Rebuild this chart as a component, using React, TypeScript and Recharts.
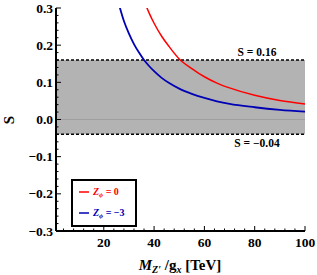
import React from 'react';
import { ComposedChart, Line, XAxis, YAxis, ReferenceArea, ReferenceLine } from 'recharts';

// data
const xValues = [24, 26, 28, 30, 32, 34, 36, 38, 40, 43, 46, 50, 55, 60, 65, 70, 80, 90, 100];
const redValues: (number | null)[] = [null, null, null, null, null, 0.36, 0.32, 0.287, 0.259, 0.224, 0.196, 0.163, 0.137, 0.115, 0.098, 0.085, 0.065, 0.051, 0.042];
const blueValues = [0.36, 0.31, 0.265, 0.231, 0.203, 0.18, 0.16, 0.144, 0.13, 0.112, 0.098, 0.083, 0.069, 0.058, 0.049, 0.042, 0.033, 0.026, 0.021];

const xTicks = [4, 8, 12, 16, 20, 24, 28, 32, 36, 40, 44, 48, 52, 56, 60, 64, 68, 72, 76, 80, 84, 88, 92, 96, 100];
const xMajor = [20, 40, 60, 80, 100];
const yTicks = [-0.3, -0.28, -0.26, -0.24, -0.22, -0.2, -0.18, -0.16, -0.14, -0.12, -0.1, -0.08, -0.06, -0.04, -0.02, 0, 0.02, 0.04, 0.06, 0.08, 0.1, 0.12, 0.14, 0.16, 0.18, 0.2, 0.22, 0.24, 0.26, 0.28, 0.3];
const yMajor = [-0.3, -0.2, -0.1, 0, 0.1, 0.2, 0.3];

const bandLow = -0.04;
const bandHigh = 0.16;

const data = xValues.map((x, i) => ({ x, red: redValues[i], blue: blueValues[i] }));

const FONT = '"Liberation Serif", "DejaVu Serif", serif';
const isMajorY = (v: number) => yMajor.some((m) => Math.abs(m - v) < 1e-6);
const fmtY = (v: number) => (v < -1e-9 ? '\u2212' + Math.abs(v).toFixed(1) : v.toFixed(1));

const BottomTick = (props: any) => {
  const { x, y, payload } = props;
  const major = xMajor.includes(payload.value);
  return (
    <g>
      <line x1={x} x2={x} y1={y} y2={y - (major ? 5 : 2.5)} stroke="#000" strokeWidth={1} />
      {major && (
        <text x={x} y={y + 16} textAnchor="middle" fontFamily={FONT} fontWeight="bold" fontSize={13.5} fill="#000">
          {payload.value}
        </text>
      )}
    </g>
  );
};

const TopTick = (props: any) => {
  const { x, y, payload } = props;
  const major = xMajor.includes(payload.value);
  return <line x1={x} x2={x} y1={y} y2={y + (major ? 5 : 2.5)} stroke="#000" strokeWidth={1} />;
};

const LeftTick = (props: any) => {
  const { x, y, payload } = props;
  const major = isMajorY(payload.value);
  return (
    <g>
      <line x1={x} x2={x + (major ? 5 : 2.5)} y1={y} y2={y} stroke="#000" strokeWidth={1} />
      {major && (
        <text x={x - 3} y={y + 4.5} textAnchor="end" fontFamily={FONT} fontWeight="bold" fontSize={13.5} fill="#000">
          {fmtY(payload.value)}
        </text>
      )}
    </g>
  );
};

const RightTick = (props: any) => {
  const { x, y, payload } = props;
  const major = isMajorY(payload.value);
  return <line x1={x} x2={x - (major ? 5 : 2.5)} y1={y} y2={y} stroke="#000" strokeWidth={1} />;
};

const bandLabel = (text: string, above: boolean) => (props: any) => {
  const vb = props.viewBox || {};
  return (
    <text
      x={vb.x + vb.width - 48}
      y={above ? vb.y - 4 : vb.y + 13}
      textAnchor="middle"
      fontFamily={FONT}
      fontWeight="bold"
      fontSize={11.5}
      fill="#000"
    >
      {text}
    </text>
  );
};

export default function App() {
  return (
    <div style={{ position: 'absolute', left: 0, top: 0, width: 317, height: 275, background: '#fff' }}>
      <ComposedChart width={317} height={275} data={data} margin={{ top: 8, right: 12, bottom: 0, left: 0 }}>
        <XAxis
          dataKey="x"
          type="number"
          domain={[1, 100]}
          ticks={xTicks}
          interval={0}
          allowDataOverflow
          tickSize={0}
          tickMargin={0}
          height={44}
          tick={<BottomTick />}
          tickLine={false}
          axisLine={{ stroke: '#000', strokeWidth: 2 }}
        />
        <XAxis
          xAxisId="top"
          orientation="top"
          dataKey="x"
          type="number"
          domain={[1, 100]}
          ticks={xTicks}
          interval={0}
          allowDataOverflow
          tickSize={0}
          tickMargin={0}
          height={0}
          tick={<TopTick />}
          tickLine={false}
          axisLine={{ stroke: '#000', strokeWidth: 2 }}
        />
        <YAxis
          type="number"
          domain={[-0.3, 0.3]}
          ticks={yTicks}
          interval={0}
          allowDataOverflow
          tickSize={0}
          tickMargin={0}
          width={56}
          tick={<LeftTick />}
          tickLine={false}
          axisLine={{ stroke: '#000', strokeWidth: 2 }}
        />
        <YAxis
          yAxisId="right"
          orientation="right"
          type="number"
          domain={[-0.3, 0.3]}
          ticks={yTicks}
          interval={0}
          allowDataOverflow
          tickSize={0}
          tickMargin={0}
          width={0}
          tick={<RightTick />}
          tickLine={false}
          axisLine={{ stroke: '#000', strokeWidth: 2 }}
        />
        <ReferenceArea y1={bandLow} y2={bandHigh} fill="#b3b3b3" fillOpacity={1} stroke="none" ifOverflow="hidden" />
        <ReferenceLine y={0} stroke="#999" strokeWidth={0.8} />
        <ReferenceLine y={bandHigh} stroke="#000" strokeWidth={1.5} strokeDasharray="3 2" label={bandLabel('S = 0.16', true)} />
        <ReferenceLine y={bandLow} stroke="#000" strokeWidth={1.5} strokeDasharray="3 2" label={bandLabel('S = \u22120.04', false)} />
        <Line type="monotone" dataKey="red" stroke="#ff0000" strokeWidth={1.5} dot={false} isAnimationActive={false} connectNulls={false} />
        <Line type="monotone" dataKey="blue" stroke="#0000b4" strokeWidth={1.8} dot={false} isAnimationActive={false} />
      </ComposedChart>
      <svg width={317} height={275} style={{ position: 'absolute', left: 0, top: 0, pointerEvents: 'none' }}>
        <text x={0} y={0} transform="translate(14,120) rotate(-90)" textAnchor="middle" fontFamily={FONT} fontWeight="bold" fontSize={15} fill="#000">
          S
        </text>
        <text x={180} y={270} textAnchor="middle" fontFamily={FONT} fontWeight="bold" fontSize={15} fill="#000">
          <tspan fontStyle="italic">M</tspan>
          <tspan fontStyle="italic" fontSize={10} dy={3}>{"Z\u2032"}</tspan>
          <tspan dy={-3}>{" /"}</tspan>
          <tspan>g</tspan>
          <tspan fontStyle="italic" fontSize={10} dy={3}>x</tspan>
          <tspan dy={-3}>{" [TeV]"}</tspan>
        </text>
        <rect x={72} y={180} width={64} height={46} fill="#fff" stroke="#000" strokeWidth={2} />
        <line x1={79} x2={89} y1={192} y2={192} stroke="#ff0000" strokeWidth={1.5} />
        <text x={93} y={195} fontFamily={FONT} fontWeight="bold" fontSize={10} fill="#ff0000">
          <tspan fontStyle="italic">Z</tspan>
          <tspan fontStyle="italic" fontSize={7} dy={2}>{"\u03d5"}</tspan>
          <tspan dy={-2}>{" = 0"}</tspan>
        </text>
        <line x1={79} x2={89} y1={213} y2={213} stroke="#0000b4" strokeWidth={1.5} />
        <text x={93} y={216} fontFamily={FONT} fontWeight="bold" fontSize={10} fill="#0000b4">
          <tspan fontStyle="italic">Z</tspan>
          <tspan fontStyle="italic" fontSize={7} dy={2}>{"\u03d5"}</tspan>
          <tspan dy={-2}>{" = \u22123"}</tspan>
        </text>
      </svg>
    </div>
  );
}
